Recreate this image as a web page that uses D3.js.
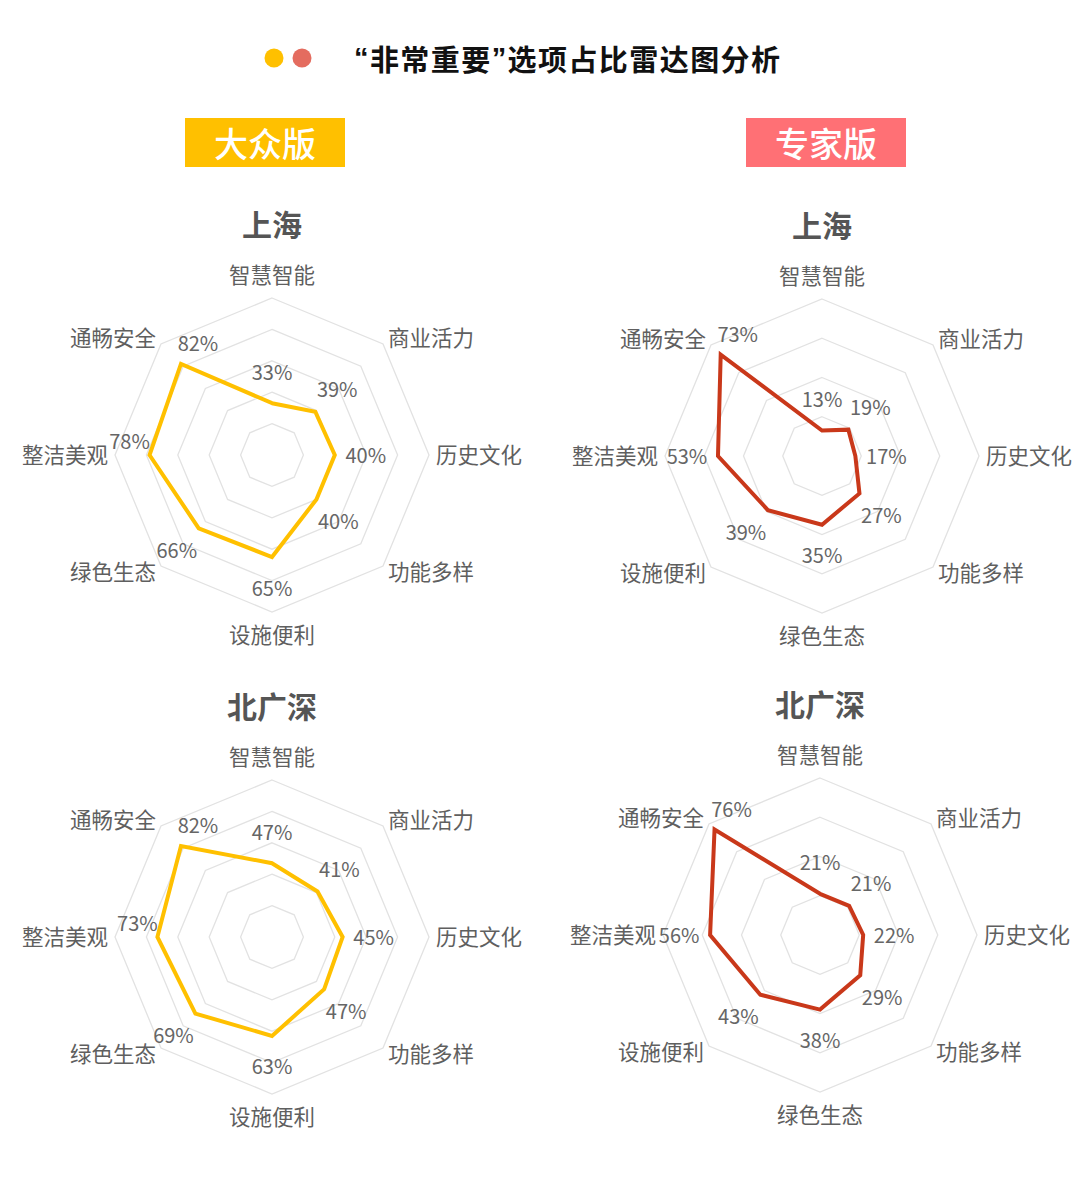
<!DOCTYPE html>
<html>
<head>
<meta charset="utf-8">
<script src="https://cdn.jsdelivr.net/npm/d3@7"></script>
<style>
  html, body { margin: 0; padding: 0; background: #fff; }
  svg { display: block; font-family: "Noto Sans CJK SC", "Noto Sans", sans-serif; }
</style>
</head>
<body>
<svg id="chart" width="1080" height="1178"></svg>
<script>
// data
const titleParts = ["“", "非常重要", "”", "选项占比雷达图分析"];
const versionNames = ["大众版", "专家版"];
const cityNames = ["上海", "北广深"];

const axesPublic = ["智慧智能", "商业活力", "历史文化", "功能多样", "设施便利", "绿色生态", "整洁美观", "通畅安全"];
const axesExpert = ["智慧智能", "商业活力", "历史文化", "功能多样", "绿色生态", "设施便利", "整洁美观", "通畅安全"];

const publicShanghai = [0.33, 0.39, 0.40, 0.40, 0.65, 0.66, 0.78, 0.82];
const publicBGS      = [0.47, 0.41, 0.45, 0.47, 0.63, 0.69, 0.73, 0.82];
const expertShanghai = [0.13, 0.19, 0.17, 0.27, 0.35, 0.39, 0.53, 0.73];
const expertBGS      = [0.21, 0.21, 0.22, 0.29, 0.38, 0.43, 0.56, 0.76];

const ticksPublic = [0.2, 0.4, 0.6, 0.8, 1.0];
const ticksExpert = [0.2, 0.4, 0.6, 0.8];

const svg = d3.select("#chart");
const R = 157;
const fmt = d3.format(".0%");

// header
svg.append("circle").attr("cx", 274).attr("cy", 58).attr("r", 9.5).attr("fill", "#FFC000");
svg.append("circle").attr("cx", 302).attr("cy", 58).attr("r", 9.5).attr("fill", "#E46C5F");
const title = svg.append("text")
    .attr("x", 354).attr("y", 58)
    .attr("dominant-baseline", "central")
    .attr("textLength", 426).attr("lengthAdjust", "spacing")
    .style("font-size", "29px").style("font-weight", "bold")
    .attr("fill", "#111");
titleParts.forEach((p, i) => {
    title.append("tspan")
        .style("font-family", i % 2 === 0 ? "'Liberation Sans', sans-serif" : null)
        .text(p);
});

const badges = [
    { name: versionNames[0], x: 185, fill: "#FFC000" },
    { name: versionNames[1], x: 746, fill: "#FF7075" }
];
badges.forEach(b => {
    svg.append("rect").attr("x", b.x).attr("y", 118).attr("width", 160).attr("height", 49).attr("fill", b.fill);
    svg.append("text")
        .attr("x", b.x + 80).attr("y", 142)
        .attr("dominant-baseline", "central").attr("text-anchor", "middle")
        .style("font-size", "34px").style("font-weight", 500).attr("fill", "#fff")
        .text(b.name);
});

function drawRadar(cx, cy, title, axes, values, ticks, color) {
    const g = svg.append("g").attr("transform", `translate(${cx},${cy})`);
    const n = axes.length;
    const r = d3.scaleLinear().domain([0, d3.max(ticks)]).range([0, R]);
    const angle = i => i * 2 * Math.PI / n;

    // grid rings
    const ring = d3.lineRadial().angle((d, i) => angle(i)).radius(d => r(d)).curve(d3.curveLinearClosed);
    g.selectAll(".ring")
        .data(ticks)
        .join("path")
        .attr("class", "ring")
        .attr("fill", "none")
        .attr("stroke", "#e2e2e2")
        .attr("stroke-width", 1.3)
        .attr("d", t => ring(axes.map(() => t)));

    // title
    g.append("text")
        .attr("x", 0).attr("y", -R - 75)
        .attr("dominant-baseline", "central").attr("text-anchor", "middle")
        .style("font-size", "30px").style("font-weight", "bold")
        .attr("fill", "#555")
        .text(title);

    // category labels
    g.selectAll(".cat")
        .data(axes)
        .join("text")
        .attr("class", "cat")
        .attr("dominant-baseline", "central")
        .attr("text-anchor", (d, i) => {
            const s = Math.sin(angle(i));
            return s > 0.1 ? "start" : s < -0.1 ? "end" : "middle";
        })
        .attr("x", (d, i) => (R + 7) * Math.sin(angle(i)))
        .attr("y", (d, i) => {
            const c = -Math.cos(angle(i));
            return (R + 8) * c + (Math.abs(c) > 0.9 ? 15 * Math.sign(c) : 0) - 1.5;
        })
        .style("font-size", "21.5px")
        .attr("fill", "#5f5f5f")
        .text(d => d);

    // series line
    const line = d3.lineRadial().angle((d, i) => angle(i)).radius(d => r(d)).curve(d3.curveLinearClosed);
    g.append("path")
        .attr("d", line(values))
        .attr("fill", "none")
        .attr("stroke", color)
        .attr("stroke-width", 4)
        .attr("stroke-linejoin", "miter");

    // value labels
    g.selectAll(".val")
        .data(values)
        .join("text")
        .attr("class", "val")
        .attr("dominant-baseline", "central").attr("text-anchor", "middle")
        .style("font-size", "20px")
        .attr("fill", "#666")
        .attr("transform", (d, i) => {
            const a = angle(i);
            const px = r(d) * Math.sin(a), py = -r(d) * Math.cos(a);
            let ox = 31 * Math.sin(a), oy = -31 * Math.cos(a);
            if (i === n - 1) { ox = 17; oy = -20; }          // upper-left labels sit up and right
            if (i === n - 2 && r(d) > 112) { ox = -20; oy = -14; } // clear the left axis label
            return `translate(${px + ox},${py + oy - 1})`;
        })
        .text(d => fmt(d));
}

drawRadar(272, 455, cityNames[0], axesPublic, publicShanghai, ticksPublic, "#FFC000");
drawRadar(822, 456, cityNames[0], axesExpert, expertShanghai, ticksExpert, "#C9381A");
drawRadar(272, 937, cityNames[1], axesPublic, publicBGS, ticksPublic, "#FFC000");
drawRadar(820, 935, cityNames[1], axesExpert, expertBGS, ticksExpert, "#C9381A");
</script>
</body>
</html>
